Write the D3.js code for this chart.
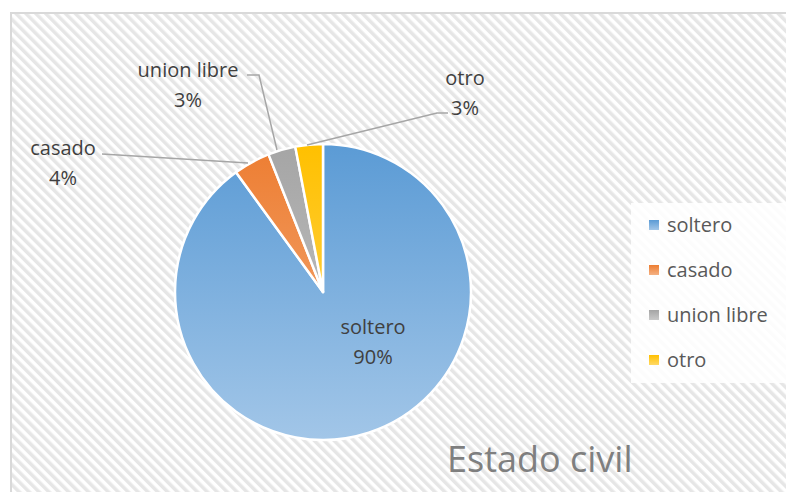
<!DOCTYPE html>
<html>
<head>
<meta charset="utf-8">
<script src="https://cdn.jsdelivr.net/npm/d3@7"></script>
<style>
  body { margin: 0; background: #fff; }
  text { font-family: "Open Sans", sans-serif; }
</style>
</head>
<body>
<svg id="chart" width="786" height="492"></svg>
<script>
// data
var categories = ["soltero", "casado", "union libre", "otro"];
var values = [90, 4, 3, 3];
var colors = ["#5B9BD5", "#ED7D31", "#A5A5A5", "#FFC000"];
var lightColors = ["#A2C6E8", "#F4B183", "#C9C9C9", "#FFD966"];
var chartTitle = "Estado civil";

var svg = d3.select("#chart");
var defs = svg.append("defs");

// diagonal hatch background
var pat = defs.append("pattern")
    .attr("id", "hatch")
    .attr("patternUnits", "userSpaceOnUse")
    .attr("width", 7).attr("height", 7)
    .attr("patternTransform", "rotate(-45)");
pat.append("rect").attr("width", 7).attr("height", 7).attr("fill", "#fff");
pat.append("rect").attr("width", 3.5).attr("height", 7).attr("fill", "#e6e6e6");

svg.append("rect")
    .attr("x", 11).attr("y", 13)
    .attr("width", 800).attr("height", 500)
    .attr("fill", "url(#hatch)")
    .attr("stroke", "#d9d9d9")
    .attr("stroke-width", 2);

var cx = 323, cy = 292, r = 148;

// gradients for the slices (in the pie group's coordinates)
colors.forEach(function(c, i) {
    var g = defs.append("linearGradient")
        .attr("id", "grad" + i)
        .attr("gradientUnits", "userSpaceOnUse")
        .attr("x1", 0).attr("y1", -r)
        .attr("x2", 0).attr("y2", r);
    g.append("stop").attr("offset", "0%").attr("stop-color", c);
    g.append("stop").attr("offset", "100%").attr("stop-color", lightColors[i]);
});

var pie = d3.pie().sort(null).value(function(d) { return d; });
var arcs = pie(values);
var arc = d3.arc().innerRadius(0).outerRadius(r);

var g = svg.append("g").attr("transform", "translate(" + cx + "," + cy + ")");
g.selectAll("path")
    .data(arcs)
    .enter()
    .append("path")
    .attr("d", arc)
    .attr("fill", function(d, i) { return "url(#grad" + i + ")"; })
    .attr("stroke", "#fff")
    .attr("stroke-width", 2.5)
    .attr("stroke-linejoin", "round");

// label positions (absolute) and leader line elbows
var labels = [
    { x: 373, y: 327, line: null },
    { x: 63, y: 148, line: [[102, 154], [248, 163]] },
    { x: 188, y: 70, line: [[247, 75], [259, 75], [277, 150]] },
    { x: 465, y: 78, line: [[448, 113], [437, 113], [307, 145]] }
];

var lineGen = d3.line();
labels.forEach(function(l, i) {
    if (l.line) {
        svg.append("path")
            .attr("d", lineGen(l.line))
            .attr("fill", "none")
            .attr("stroke", "#a6a6a6")
            .attr("stroke-width", 1.5);
    }
    var t = svg.append("text")
        .attr("text-anchor", "middle")
        .attr("font-size", 20)
        .attr("fill", "#404040");
    t.append("tspan").attr("x", l.x).attr("y", l.y + 7).text(categories[i]);
    t.append("tspan").attr("x", l.x).attr("y", l.y + 37)
        .text(Math.round(values[i] / d3.sum(values) * 100) + "%");
});

// legend
svg.append("rect")
    .attr("x", 631).attr("y", 203)
    .attr("width", 160).attr("height", 180)
    .attr("fill", "#fff")
    .attr("opacity", 0.85);

colors.forEach(function(c, i) {
    var lg = defs.append("linearGradient").attr("id", "lg" + i)
        .attr("x1", 0).attr("y1", 0).attr("x2", 0).attr("y2", 1);
    lg.append("stop").attr("offset", "0%").attr("stop-color", c);
    lg.append("stop").attr("offset", "100%").attr("stop-color", lightColors[i]);
});

var legend = svg.selectAll(".leg")
    .data(categories)
    .enter()
    .append("g")
    .attr("transform", function(d, i) { return "translate(649," + (225 + i * 45) + ")"; });
legend.append("rect")
    .attr("x", 0).attr("y", -5)
    .attr("width", 10).attr("height", 10)
    .attr("fill", function(d, i) { return "url(#lg" + i + ")"; });
legend.append("text")
    .attr("x", 18).attr("y", 7)
    .attr("font-size", 20)
    .attr("fill", "#595959")
    .text(function(d) { return d; });

// title
svg.append("text")
    .attr("x", 447).attr("y", 472)
    .attr("font-size", 36)
    .attr("fill", "#7f7f7f")
    .text(chartTitle);
</script>
</body>
</html>
